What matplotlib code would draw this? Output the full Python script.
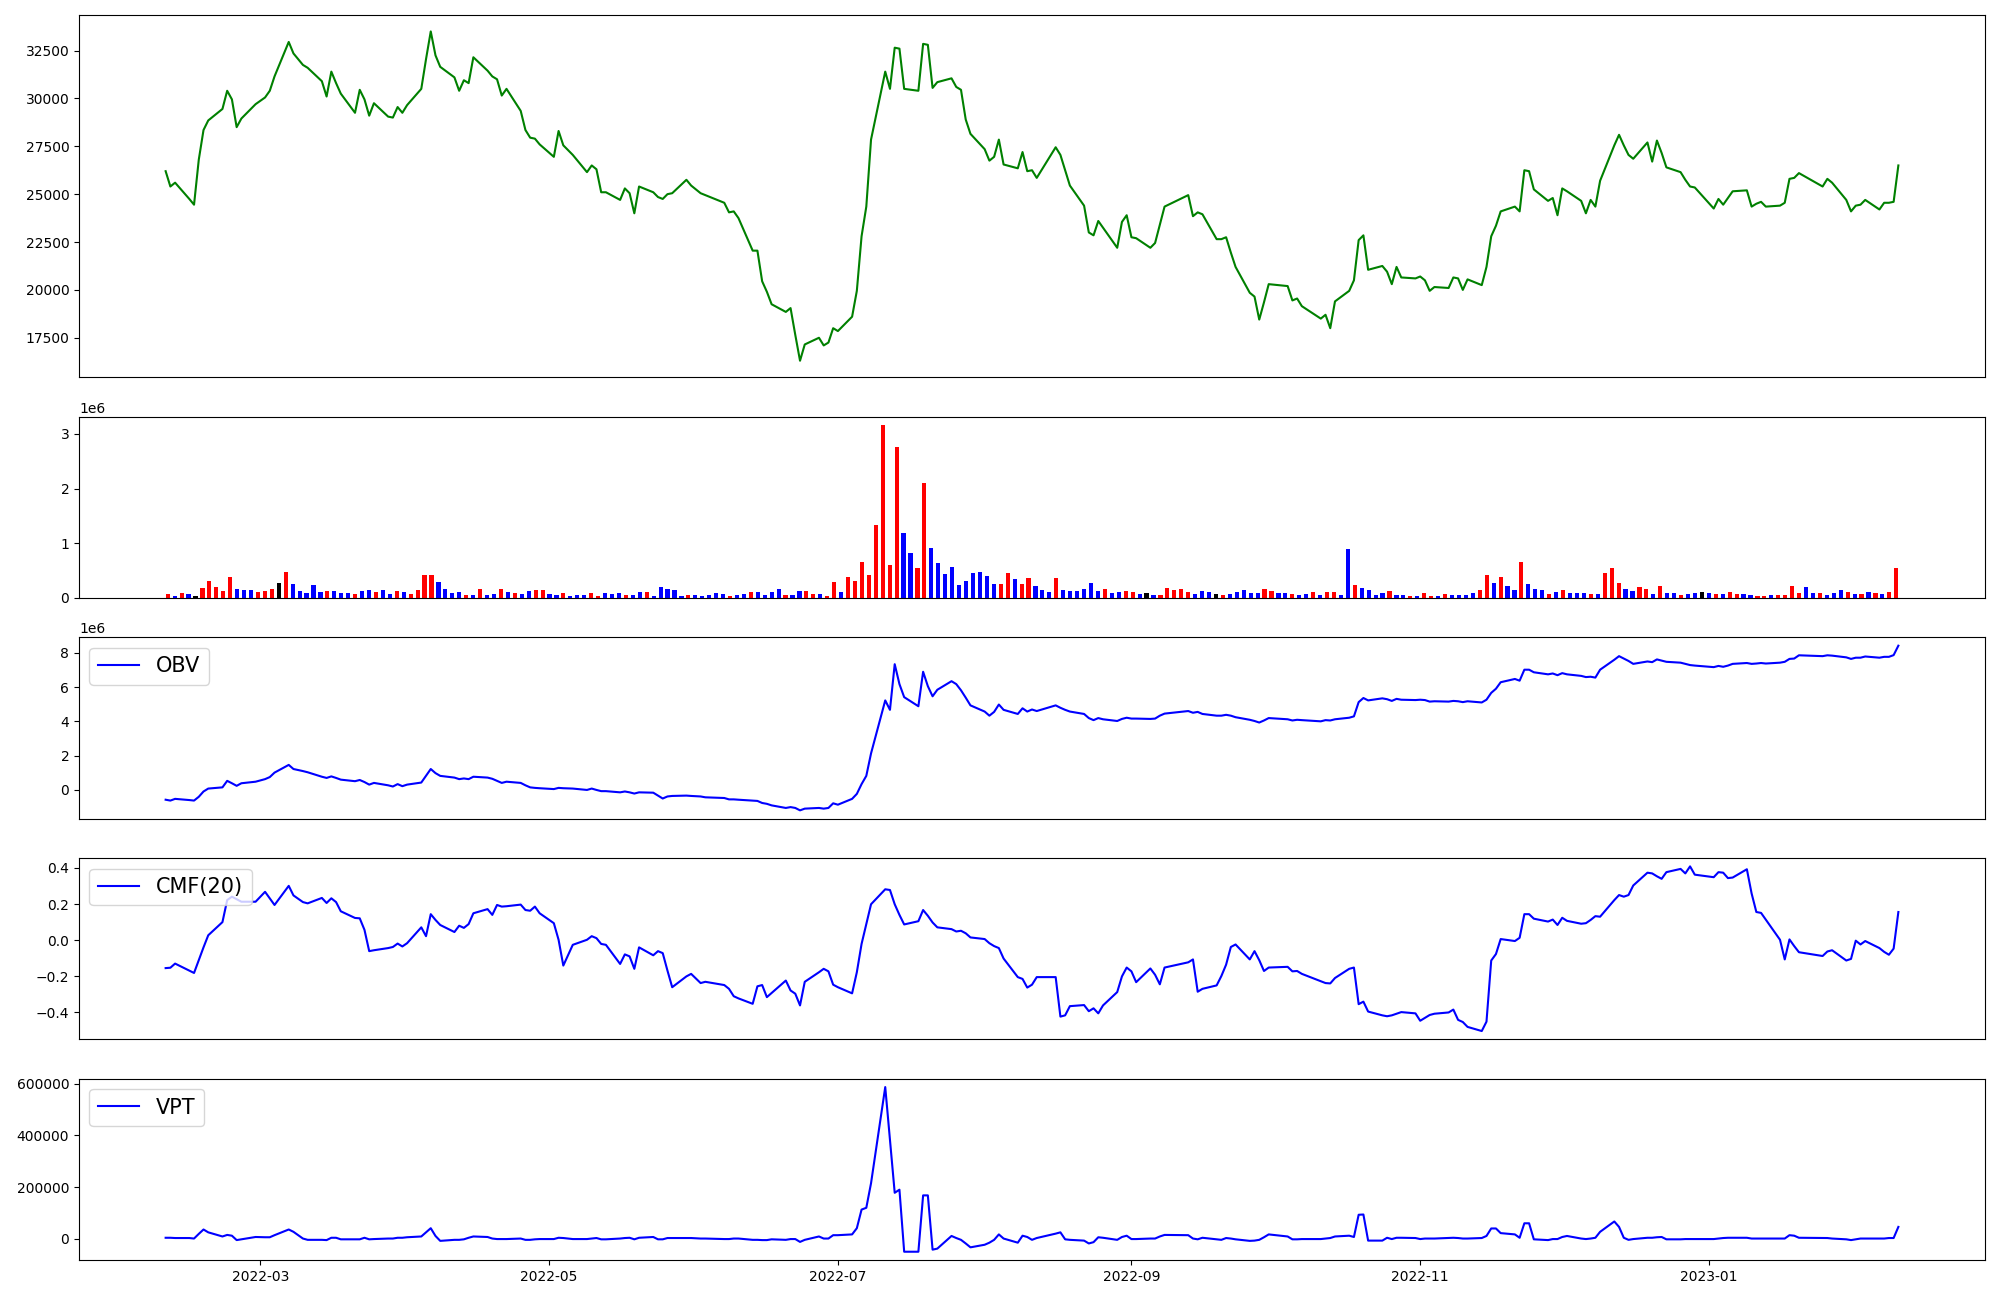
import matplotlib
matplotlib.use('Agg')

import matplotlib.pyplot as plt
import pandas as pd
import numpy as np

# KRX trading days, 2022-02-09 .. 2023-02-10
holidays = ['2022-03-01', '2022-03-09', '2022-05-05', '2022-06-01', '2022-06-06',
            '2022-08-15', '2022-09-09', '2022-09-12', '2022-10-03', '2022-10-10',
            '2022-12-30', '2023-01-23', '2023-01-24']
dates = pd.bdate_range('2022-02-09', '2023-02-10')
dates = dates[~dates.isin(pd.to_datetime(holidays))]

close = [
    # Feb
    26200, 25400, 25600, 24750, 24450, 26800, 28350, 28850, 29450, 30400, 29950, 28500, 28950, 29700,
    # Mar
    30050, 30400, 31150, 32950, 32350, 31750, 31600, 30900, 30100, 31400, 30800, 30250, 29250, 30450,
    29950, 29100, 29750, 29050, 29000, 29550, 29250,
    # Apr
    29650, 30500, 32050, 33500, 32250, 31650, 31100, 30400, 30950, 30800, 32150, 31450, 31150, 31000,
    30150, 30500, 29350, 28350, 27950, 27900, 27600,
    # May
    26950, 28300, 27550, 27050, 26150, 26500, 26300, 25100, 25100, 24700, 25300, 25050, 24000, 25400,
    25100, 24850, 24750, 25000, 25050, 25750, 25450,
    # Jun
    25050, 24950, 24550, 24050, 24100, 23750, 22050, 22050, 20450, 19900, 19250, 18850, 19050, 17650,
    16300, 17150, 17500, 17100, 17250, 18000,
    # Jul
    17850, 18600, 19950, 22800, 24350, 27850, 31400, 30500, 32650, 32600, 30500, 30400, 32850, 32800,
    30550, 30850, 31050, 30600, 30450, 28900, 28150,
    # Aug
    27350, 26750, 26950, 27850, 26550, 26350, 27200, 26200, 26250, 25850, 27450, 27050, 26250, 25450,
    24400, 23000, 22850, 23600, 23250, 22200, 23550, 23900,
    # Sep
    22750, 22700, 22200, 22450, 23400, 24350, 24950, 23850, 24050, 23950, 22650, 22650, 22750, 21950,
    21200, 19850, 19650, 18450, 19350, 20300,
    # Oct
    20200, 19450, 19550, 19150, 18500, 18700, 18000, 19400, 19950, 20500, 22600, 22850, 21050, 21250,
    20950, 20300, 21200, 20650, 20600,
    # Nov
    20700, 20500, 19950, 20150, 20100, 20650, 20600, 20000, 20550, 20250, 21200, 22800, 23350, 24100,
    24350, 24100, 26250, 26200, 25250, 24650, 24800, 23900,
    # Dec
    25300, 25150, 24650, 24000, 24700, 24350, 25700, 27550, 28100, 27550, 27050, 26850, 27700, 26700,
    27800, 27150, 26400, 26150, 25750, 25400, 25350,
    # Jan 2023
    24250, 24750, 24450, 24800, 25150, 25200, 24350, 24500, 24600, 24350, 24400, 24550, 25800, 25850,
    26100, 25400, 25800, 25600, 24700, 24100,
    # Feb 2023
    24400, 24450, 24700, 24200, 24550, 24550, 24600, 26500,
]

# volume in thousands, one per trading day
volume_k = [
    73, 36, 91, 73, 36, 182, 310, 200, 128, 383,
    164, 146, 146, 109, 128, 164, 274, 474, 255, 128,
    91, 237, 109, 128, 128, 91, 91, 73, 128, 146,
    109, 146, 73, 128, 109, 73, 146, 419, 419, 292,
    164, 91, 109, 55, 55, 164, 55, 73, 164, 109,
    91, 73, 128, 146, 146, 73, 55, 91, 36, 55,
    55, 91, 36, 91, 73, 91, 55, 55, 109, 109,
    36, 200, 164, 146, 36, 55, 55, 36, 55, 91,
    73, 36, 55, 73, 109, 109, 55, 109, 164, 55,
    55, 128, 128, 73, 73, 36, 292, 109, 383, 310,
    657, 419, 1331, 3155, 602, 2754, 1185, 821, 547, 2097,
    912, 638, 438, 565, 237, 310, 456, 474, 401, 255,
    255, 456, 347, 255, 365, 219, 146, 109, 365, 146,
    128, 128, 164, 274, 128, 164, 91, 109, 128, 109,
    73, 91, 55, 55, 182, 146, 164, 109, 73, 128,
    109, 73, 55, 73, 109, 146, 91, 91, 164, 128,
    91, 91, 73, 55, 73, 109, 55, 109, 109, 55,
    894, 237, 182, 146, 55, 91, 128, 55, 55, 36,
    36, 91, 36, 36, 73, 55, 55, 55, 91, 146,
    419, 274, 383, 219, 146, 657, 255, 164, 146, 73,
    109, 146, 91, 91, 91, 73, 73, 456, 547, 274,
    164, 128, 200, 164, 73, 219, 91, 91, 55, 73,
    91, 109, 91, 73, 73, 109, 73, 73, 55, 36,
    36, 55, 55, 55, 219, 91, 200, 91, 91, 55,
    91, 146, 109, 73, 73, 109, 91, 73, 109, 547,
]

# candle direction per bar: r = up, b = down, k = flat
bar_dir = ("rbrbkrrrrr" "bbbrrrkrbb" "bbbrbbbrbb" "rbbrbrrrrb" "bbbrbrbbrb"
           "rbbrrbbrbb" "brrbbbrbbr" "bbbbbrbbbb" "brbbrbbbbr" "bbrrbrrbrr"
           "rrrrrrbbrr" "bbbbbbbbbb" "rrbrrbbbrb" "bbbbbrbbrr" "bkbrrrrrbb"
           "bkrbbbbbrr" "bbrbbrbrrb" "brbbbbrbbr" "brrbrbbbbr" "rbrbbrbbbr"
           "brbbbrbrrr" "bbrrbrbbrb" "bkbrbrrbbr" "rbrrrrbbrb" "bbrbrbrbrr")

obv_m = [
    -0.57, -0.62, -0.52, -0.59, -0.62, -0.40, -0.09, 0.08, 0.15, 0.53, 0.39, 0.24, 0.39, 0.48,
    0.63, 0.75, 1.01, 1.46, 1.22, 1.10, 1.03, 0.77, 0.70, 0.79, 0.70, 0.60, 0.51, 0.58,
    0.46, 0.31, 0.41, 0.27, 0.20, 0.34, 0.22,
    0.31, 0.43, 0.82, 1.22, 0.98, 0.82, 0.72, 0.63, 0.67, 0.63, 0.77, 0.72, 0.65, 0.53,
    0.41, 0.48, 0.41, 0.27, 0.15, 0.12, 0.10,
    0.05, 0.12, 0.10, 0.08, 0.00, 0.08, 0.00, -0.07, -0.07, -0.14, -0.09, -0.14, -0.21, -0.14,
    -0.16, -0.33, -0.50, -0.38, -0.35, -0.33, -0.35,
    -0.38, -0.43, -0.47, -0.55, -0.55, -0.57, -0.62, -0.64, -0.76, -0.81, -0.90, -1.05, -1.00, -1.05,
    -1.19, -1.09, -1.05, -1.09, -1.05, -0.78,
    -0.86, -0.52, -0.23, 0.34, 0.82, 2.13, 5.22, 4.67, 7.33, 6.17, 5.41, 4.88, 6.89, 6.05,
    5.46, 5.84, 6.34, 6.17, 5.81, 5.38, 4.93,
    4.57, 4.33, 4.55, 4.98, 4.67, 4.43, 4.76, 4.57, 4.69, 4.60, 4.93, 4.79, 4.67, 4.57,
    4.43, 4.19, 4.07, 4.19, 4.12, 4.02, 4.14, 4.21,
    4.16, 4.16, 4.14, 4.16, 4.33, 4.45, 4.60, 4.50, 4.55, 4.43, 4.33, 4.33, 4.38, 4.33,
    4.24, 4.09, 4.02, 3.93, 4.05, 4.19,
    4.12, 4.05, 4.09, 4.07, 4.00, 4.07, 4.05, 4.12, 4.21, 4.29, 5.12, 5.36, 5.22, 5.34,
    5.29, 5.19, 5.31, 5.26, 5.24,
    5.26, 5.24, 5.15, 5.17, 5.15, 5.19, 5.17, 5.12, 5.17, 5.10, 5.26, 5.66, 5.90, 6.28,
    6.47, 6.37, 7.01, 7.01, 6.86, 6.74, 6.79, 6.69,
    6.81, 6.74, 6.65, 6.58, 6.60, 6.55, 7.01, 7.59, 7.80, 7.66, 7.52, 7.35, 7.49, 7.45,
    7.61, 7.54, 7.47, 7.42, 7.35, 7.28, 7.25,
    7.16, 7.23, 7.18, 7.25, 7.35, 7.40, 7.35, 7.37, 7.40, 7.37, 7.42, 7.47, 7.64, 7.66,
    7.85, 7.80, 7.85, 7.83, 7.73, 7.64,
    7.71, 7.71, 7.78, 7.71, 7.76, 7.76, 7.86, 8.41,
]

cmf20 = [
    -0.155, -0.153, -0.130, -0.169, -0.182, -0.111, -0.040, 0.027, 0.100, 0.222, 0.241, 0.227, 0.213, 0.213,
    0.268, 0.232, 0.195, 0.301, 0.248, 0.211, 0.204, 0.234, 0.206, 0.232, 0.211, 0.160, 0.123, 0.121,
    0.057, -0.061, -0.056, -0.044, -0.038, -0.019, -0.035,
    -0.017, 0.071, 0.022, 0.144, 0.112, 0.084, 0.045, 0.080, 0.068, 0.089, 0.149, 0.172, 0.140, 0.195,
    0.186, 0.188, 0.197, 0.167, 0.163, 0.186, 0.149,
    0.094, 0.002, -0.141, -0.026, 0.002, 0.022, 0.011, -0.021, -0.026, -0.132, -0.079, -0.090, -0.159, -0.040,
    -0.084, -0.061, -0.072, -0.169, -0.261, -0.201, -0.187,
    -0.238, -0.231, -0.249, -0.270, -0.311, -0.323, -0.353, -0.256, -0.249, -0.316, -0.293, -0.224, -0.279, -0.297,
    -0.362, -0.231, -0.178, -0.159, -0.173, -0.247,
    -0.261, -0.295, -0.178, -0.021, 0.089, 0.199, 0.282, 0.278, 0.199, 0.140, 0.087, 0.105, 0.167, 0.135,
    0.098, 0.071, 0.061, 0.048, 0.052, 0.038, 0.015,
    0.006, -0.017, -0.033, -0.044, -0.102, -0.205, -0.215, -0.263, -0.247, -0.205, -0.205, -0.424, -0.417, -0.366,
    -0.360, -0.394, -0.378, -0.406, -0.362, -0.288, -0.201, -0.152,
    -0.173, -0.233, -0.157, -0.192, -0.245, -0.152, -0.123, -0.107, -0.286, -0.270, -0.251, -0.199, -0.136, -0.038,
    -0.024, -0.107, -0.061, -0.111, -0.171, -0.152,
    -0.148, -0.173, -0.171, -0.187, -0.228, -0.238, -0.240, -0.210, -0.159, -0.152, -0.355, -0.341, -0.396, -0.417,
    -0.422, -0.417, -0.408, -0.399, -0.406,
    -0.447, -0.431, -0.415, -0.408, -0.401, -0.385, -0.442, -0.454, -0.481, -0.504, -0.452, -0.113, -0.077, 0.006,
    -0.005, 0.013, 0.144, 0.144, 0.119, 0.103, 0.114, 0.084,
    0.124, 0.107, 0.091, 0.094, 0.112, 0.133, 0.130, 0.222, 0.250, 0.241, 0.250, 0.303, 0.374, 0.370,
    0.354, 0.340, 0.377, 0.395, 0.370, 0.409, 0.363,
    0.349, 0.377, 0.374, 0.344, 0.347, 0.393, 0.259, 0.156, 0.151, 0.114, 0.002, -0.107, 0.004, -0.033,
    -0.067, -0.088, -0.063, -0.056, -0.113, -0.104,
    -0.003, -0.024, -0.005, -0.044, -0.065, -0.081, -0.047, 0.156,
]

vpt_k = [
    4, 4, 3, 3, 1, 19, 36, 25, 9, 15, 12, -5, -2, 7,
    6, 6, 14, 36, 27, 1, -4, -4, -5, 4, 4, -2, -2, -2, 4, -2, -1, 1, 1, 4, 4,
    6, 9, 25, 41, 11, -8, -4, -4, -2, 4, 9, 7, 1, -1, -1, -1, 1, -4, -4, -2, -1,
    -1, 4, 3, -1, -1, 1, 3, -2, -2, 1, 3, 4, -2, 4, 7, -2, -2, 3, 3, 3, 3,
    1, 1, -1, -1, 1, 1, -4, -4, -5, -5, -2, -4, -1, -1, -12, -4, 9, 1, 1, 14,
    14, 17, 41, 113, 120, 215, 587, 383, 178, 190, -50, -50, 168, 168, -42, -38, 11, 3, -4, -18, -33,
    -23, -15, -4, 17, 1, -15, 12, 7, -4, 3, 20, 25, -2, -4, -7, -18, -13, 6, 4, -4, 7, 12,
    -1, -1, 1, 1, 9, 15, 14, 1, -2, 4, -2, -4, 3, 1, -2, -8, -7, -4, 6, 17,
    9, -2, -2, -1, -1, 1, 3, 9, 12, 7, 93, 94, -7, -7, 4, -1, 4, 4, 3,
    -1, 1, 1, 1, 3, 4, 3, 1, 1, 3, 11, 40, 40, 22, 17, 4, 60, 60, -2, -5, -1, -1,
    7, 11, 1, -1, 1, 4, 27, 67, 46, 4, -4, -1, 4, 4, 6, 7, -2, -2, -1, -1, -1,
    -1, 1, 3, 4, 4, 4, 1, 1, 1, 1, 1, 1, 14, 12, 4, 3, 3, 1, -2, -5,
    -2, 1, 1, 1, 1, 3, 3, 46,
]

dir_colors = {'r': 'red', 'b': 'blue', 'k': 'black'}


def plot_indicators():
    fig = plt.figure(figsize=(20, 13))
    gs = fig.add_gridspec(5, 1, height_ratios=[2, 1, 1, 1, 1], left=0.0395, right=0.9925,
                          top=0.9885, bottom=0.0308, hspace=0.182)
    ax_price = fig.add_subplot(gs[0])
    ax_vol = fig.add_subplot(gs[1])
    ax_obv = fig.add_subplot(gs[2])
    ax_cmf = fig.add_subplot(gs[3])
    ax_vpt = fig.add_subplot(gs[4])

    ax_price.plot(dates, close, color='green')

    vol = np.array(volume_k) * 1000
    colors = [dir_colors[c] for c in bar_dir]
    ax_vol.bar(np.arange(len(vol)), vol, width=0.6, color=colors)

    ax_obv.plot(dates, np.array(obv_m) * 1e6, color='blue', label='OBV')
    ax_obv.legend(loc='upper left', fontsize=15)

    ax_cmf.plot(dates, cmf20, color='blue', label='CMF(20)')
    ax_cmf.legend(loc='upper left', fontsize=15)

    ax_vpt.plot(dates, np.array(vpt_k) * 1000, color='blue', label='VPT')
    ax_vpt.legend(loc='upper left', fontsize=15)

    for ax in (ax_price, ax_vol, ax_obv, ax_cmf):
        ax.tick_params(axis='x', bottom=False, labelbottom=False)

    plt.savefig('out.png', dpi=100)


if __name__ == "__main__":
    plot_indicators()
